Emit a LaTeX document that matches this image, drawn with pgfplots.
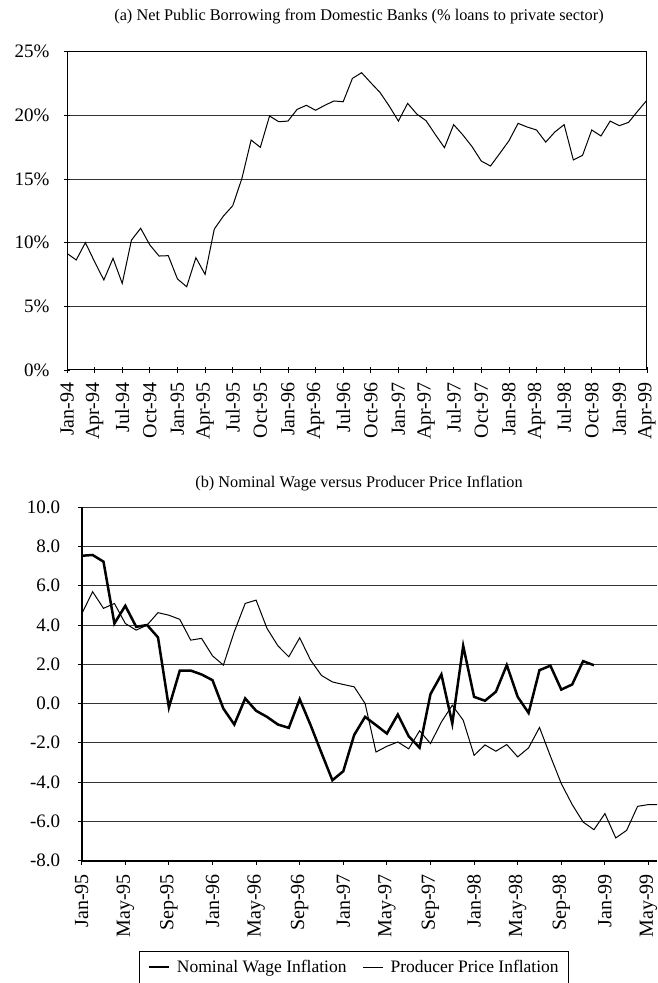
\documentclass[border=0pt]{standalone}
\usepackage{pgfplots}
\pgfplotsset{compat=1.18}
\usepackage{fontspec}
\setmainfont{Liberation Serif}
\begin{document}
\begin{tikzpicture}[x=1pt,y=1pt]
\begin{axis}[
  at={(67pt,613pt)}, anchor=south west, scale only axis,
  width=580pt, height=318.3pt,
  xmin=0, xmax=63, ymin=0, ymax=25,
  xtick={0,3,...,63},
  xticklabels={Jan-94,Apr-94,Jul-94,Oct-94,Jan-95,Apr-95,Jul-95,Oct-95,Jan-96,Apr-96,Jul-96,Oct-96,Jan-97,Apr-97,Jul-97,Oct-97,Jan-98,Apr-98,Jul-98,Oct-98,Jan-99,Apr-99},
  ytick={0,5,...,25}, yticklabels={0\%,5\%,10\%,15\%,20\%,25\%},
  x tick label style={rotate=90, anchor=east, font=\fontsize{20}{20}\selectfont},
  y tick label style={font=\fontsize{19}{19}\selectfont},
  xticklabel shift=6pt, yticklabel shift=11pt,
  tick pos=left, tick align=center, major tick length=6pt,
  tick style={black, line width=0.8pt},
  ymajorgrids, grid style={black!80, line width=1pt},
  axis line style={black, line width=1pt},
]
\addplot[black, line width=1pt] coordinates {
(0,9.16) (1,8.64) (2,10.0) (3,8.5) (4,7.07) (5,8.77) (6,6.8) (7,10.2) (8,11.13) (9,9.82)
(10,8.95) (11,8.98) (12,7.15) (13,6.54) (14,8.82) (15,7.51) (16,11.07) (17,12.1) (18,12.9) (19,15.05)
(20,18.06) (21,17.49) (22,19.95) (23,19.5) (24,19.55) (25,20.47) (26,20.79) (27,20.4) (28,20.79) (29,21.13)
(30,21.07) (31,22.9) (32,23.35) (33,22.56) (34,21.8) (35,20.73) (36,19.55) (37,20.94) (38,20.1) (39,19.58)
(40,18.5) (41,17.46) (42,19.27) (43,18.46) (44,17.54) (45,16.41) (46,16.02) (47,17.0) (48,18.0) (49,19.37)
(50,19.08) (51,18.85) (52,17.9) (53,18.7) (54,19.27) (55,16.5) (56,16.86) (57,18.85) (58,18.38) (59,19.55)
(60,19.19) (61,19.45) (62,20.34) (63,21.2)
};
\end{axis}
\begin{axis}[
  at={(81.7pt,122.5pt)}, anchor=south west, scale only axis,
  width=575.5pt, height=353.2pt,
  xmin=0, xmax=52.8, ymin=-8, ymax=10,
  xtick={0,4,...,52},
  xticklabels={Jan-95,May-95,Sep-95,Jan-96,May-96,Sep-96,Jan-97,May-97,Sep-97,Jan-98,May-98,Sep-98,Jan-99,May-99},
  ytick={-8,-6,...,10},
  yticklabels={-8.0,-6.0,-4.0,-2.0,0.0,2.0,4.0,6.0,8.0,10.0},
  x tick label style={rotate=90, anchor=east, font=\fontsize{20}{20}\selectfont},
  y tick label style={font=\fontsize{19}{19}\selectfont},
  xticklabel shift=6pt, yticklabel shift=14pt,
  axis x line*=bottom, axis y line*=left,
  tick align=outside, major tick length=4pt,
  tick style={black, line width=0.8pt},
  ymajorgrids, grid style={black!80, line width=1pt},
  axis line style={black, line width=2pt},
  legend style={at={(0.0996,-0.256)}, anchor=north west, legend columns=2,
    draw=black, line width=0.8pt, font=\fontsize{17.5}{17.5}\selectfont,
    inner xsep=8pt, inner ysep=7pt,
    /tikz/every odd column/.append style={column sep=5pt},
    /tikz/every even column/.append style={column sep=14pt}},
  legend cell align=left,
  legend image code/.code={\draw[#1] (0pt,0pt) -- (20pt,0pt);},
]
\addplot[black, line width=2.5pt] coordinates {
(0,7.53) (1,7.57) (2,7.23) (3,4.08) (4,4.98) (5,3.91) (6,4.0) (7,3.37) (8,-0.2) (9,1.68)
(10,1.68) (11,1.48) (12,1.19) (13,-0.26) (14,-1.07) (15,0.26) (16,-0.37) (17,-0.68) (18,-1.07) (19,-1.24)
(20,0.22) (21,-1.1) (22,-2.52) (23,-3.91) (24,-3.45) (25,-1.6) (26,-0.68) (27,-1.1) (28,-1.53) (29,-0.56)
(30,-1.67) (31,-2.25) (32,0.48) (33,1.48) (34,-1.02) (35,2.94) (36,0.34) (37,0.14) (38,0.6) (39,1.96)
(40,0.34) (41,-0.48) (42,1.7) (43,1.93) (44,0.71) (45,0.97) (46,2.16) (47,1.95)
};
\addlegendentry{Nominal Wage Inflation}
\addplot[black, line width=1pt] coordinates {
(0,4.56) (1,5.7) (2,4.85) (3,5.1) (4,4.08) (5,3.74) (6,4.0) (7,4.63) (8,4.5) (9,4.29)
(10,3.23) (11,3.32) (12,2.43) (13,1.96) (14,3.66) (15,5.1) (16,5.27) (17,3.83) (18,2.94) (19,2.38)
(20,3.35) (21,2.21) (22,1.43) (23,1.1) (24,0.97) (25,0.85) (26,0.0) (27,-2.47) (28,-2.18) (29,-1.96)
(30,-2.31) (31,-1.39) (32,-2.04) (33,-0.94) (34,-0.09) (35,-0.85) (36,-2.64) (37,-2.11) (38,-2.43) (39,-2.09)
(40,-2.72) (41,-2.26) (42,-1.22) (43,-2.68) (44,-4.08) (45,-5.15) (46,-6.04) (47,-6.43) (48,-5.61) (49,-6.85)
(50,-6.46) (51,-5.24) (52,-5.15) (53,-5.15)
};
\addlegendentry{Producer Price Inflation}
\end{axis}
\node[font=\fontsize{16.3}{16.3}\selectfont] at (359,966) {(a) Net Public Borrowing from Domestic Banks (\% loans to private sector)};
\node[font=\fontsize{16.3}{16.3}\selectfont] at (359,499) {(b) Nominal Wage versus Producer Price Inflation};
\pgfresetboundingbox
\path[use as bounding box] (0,0) rectangle (657,983);
\end{tikzpicture}
\end{document}
